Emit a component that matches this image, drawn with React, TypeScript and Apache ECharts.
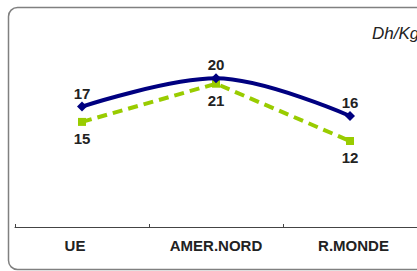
import React, { useEffect, useRef } from "react";
import * as echarts from "echarts";

const categories = ["UE", "AMER.NORD", "R.MONDE"];
const seriesA = [17, 20, 16];
const seriesB = [15, 21, 12];
const unitLabel = "Dh/Kg";

export default function App() {
  const ref = useRef<HTMLDivElement>(null);
  useEffect(() => {
    const chart = echarts.init(ref.current!, null, { renderer: "svg" });
    const labelFont = {
      fontFamily: "Liberation Sans, Arial, sans-serif",
      fontWeight: "bold" as const,
      fontSize: 15,
      color: "#222",
    };
    const catStyles = ["l", "c", "r"];
    chart.setOption({
      animation: false,
      backgroundColor: "#fff",
      grid: { left: 15, right: -3, top: 20, bottom: 44 },
      xAxis: {
        type: "category",
        data: categories,
        boundaryGap: true,
        axisLine: { onZero: false, lineStyle: { color: "#444", width: 1 } },
        axisTick: { show: true, inside: true, length: 3, lineStyle: { color: "#444" } },
        axisLabel: {
          ...labelFont,
          margin: 11,
          interval: 0,
          hideOverlap: false,
          formatter: (v: string, i: number) => `{${catStyles[i]}|${v}}`,
          rich: {
            l: { ...labelFont, padding: [0, 14, 0, 0] },
            c: { ...labelFont },
            r: { ...labelFont, padding: [0, 0, 0, 7] },
          },
        },
      },
      yAxis: [
        { type: "value", min: 4.2, max: 26.2, show: false },
        { type: "value", min: -1.5, max: 31, show: false },
      ],
      graphic: [
        {
          type: "rect",
          shape: { x: 8.5, y: 7.5, width: 430, height: 262, r: 9 },
          style: { fill: "none", stroke: "#808080", lineWidth: 1.5 },
          silent: true,
        },
        {
          type: "text",
          x: 372,
          y: 33,
          style: {
            text: unitLabel,
            font: "italic 17px Liberation Sans, Arial, sans-serif",
            fill: "#222",
            verticalAlign: "middle",
          },
        },
      ],
      series: [
        {
          type: "line",
          yAxisIndex: 1,
          data: seriesB,
          symbol: "rect",
          symbolSize: 8,
          lineStyle: { color: "#99cc00", width: 4, type: [10, 6] },
          itemStyle: { color: "#99cc00" },
          label: { show: true, position: "bottom", distance: 5, ...labelFont },
          z: 2,
        },
        {
          type: "line",
          yAxisIndex: 0,
          data: seriesA,
          smooth: 0.35,
          symbol: "diamond",
          symbolSize: 10,
          lineStyle: { color: "#000080", width: 4 },
          itemStyle: { color: "#000080" },
          label: { show: true, position: "top", distance: 1, ...labelFont },
          z: 3,
        },
      ],
    });
    return () => chart.dispose();
  }, []);
  return (
    <div
      ref={ref}
      style={{ position: "fixed", left: 0, top: 0, width: 417, height: 271 }}
    />
  );
}
